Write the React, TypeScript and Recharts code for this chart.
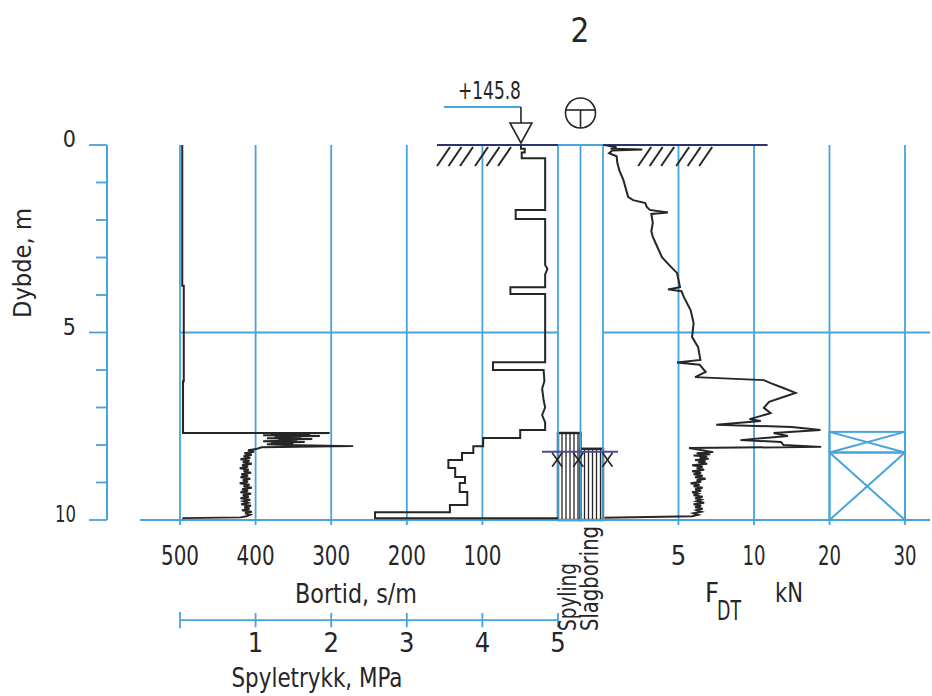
import React from 'react';
import {
  ComposedChart,
  Line,
  XAxis,
  YAxis,
  ReferenceLine,
  ReferenceArea,
  ReferenceDot,
} from 'recharts';

// ---------- data ----------
const boreholeId = '2';
const terrainLevel = '+145.8';

const depthTicks = [0, 1, 2, 3, 4, 5, 6, 7, 8, 9, 10];
const bortidTicks = [500, 400, 300, 200, 100];
const spyleTicks = [0, 1, 2, 3, 4, 5];
const fdtTicks = [5, 10, 20, 30];

const methods = ['Spyling', 'Slagboring'];
const methodStart = [7.68, 8.1]; // depth (m) where each drilling method starts
const boxDepths = [7.65, 8.2, 10]; // depth bounds of the crossed boxes
const stopMarkDepth = 8.18;
const stopMarkCols = [-0.04, 0.9, 2.2];

// [depth m, MPa]
const spyletrykk: [number, number][] = [
  [0, 0.03], [3.75, 0.03], [3.75, 0.05], [6.3, 0.05], [6.3, 0.04], [7.68, 0.04],
  [7.68, 1.98], [7.7, 1.2], [7.72, 1.72], [7.74, 1.1], [7.76, 1.85], [7.78, 1.25],
  [7.8, 1.6], [7.82, 1.15], [7.84, 1.75], [7.86, 1.3], [7.88, 1.55], [7.9, 1.1],
  [7.92, 1.65], [7.94, 1.2], [7.96, 1.5], [7.98, 1.15], [8.0, 1.4], [8.03, 2.29],
  [8.06, 1.08], [8.1, 1.02], [8.14, 0.9], [8.18, 0.98], [8.22, 0.85], [8.26, 0.95],
  [8.3, 0.84], [8.34, 0.93], [8.38, 0.8], [8.42, 0.92], [8.46, 0.83], [8.5, 0.95],
  [8.54, 0.82], [8.58, 0.9], [8.62, 0.79], [8.66, 0.91], [8.7, 0.84], [8.74, 0.94],
  [8.78, 0.81], [8.82, 0.9], [8.86, 0.8], [8.9, 0.93], [8.94, 0.83], [8.98, 0.9],
  [9.02, 0.79], [9.06, 0.92], [9.1, 0.84], [9.14, 0.95], [9.18, 0.82], [9.22, 0.9],
  [9.26, 0.8], [9.3, 0.94], [9.34, 0.83], [9.38, 0.91], [9.42, 0.8], [9.46, 0.93],
  [9.5, 0.84], [9.54, 0.9], [9.58, 0.81], [9.62, 0.94], [9.66, 0.85], [9.7, 0.92],
  [9.74, 0.82], [9.78, 0.95], [9.82, 0.86], [9.86, 0.93], [9.9, 0.88], [9.93, 0.8],
  [9.95, 0.03],
];

// [depth m, s/m]
const bortid: [number, number][] = [
  [0, 49], [0.1, 49], [0.1, 44], [0.2, 44], [0.2, 48], [0.35, 48], [0.35, 17],
  [1.73, 17], [1.73, 56], [1.97, 56], [1.97, 17], [3.2, 17], [3.3, 14], [3.45, 17],
  [3.79, 17], [3.79, 63], [3.97, 63], [3.97, 17], [5.79, 17], [5.79, 86], [6.0, 86],
  [6.0, 19], [6.3, 18], [6.5, 21], [6.8, 19], [7.0, 17], [7.2, 21], [7.4, 17],
  [7.6, 17], [7.6, 50], [7.81, 50], [7.81, 99], [8.03, 99], [8.03, 112], [8.21, 112],
  [8.21, 127], [8.4, 127], [8.4, 145], [8.61, 145], [8.61, 136], [8.85, 136],
  [8.85, 123], [9.01, 123], [9.01, 130], [9.25, 130], [9.25, 120], [9.6, 120],
  [9.6, 143], [9.79, 143], [9.79, 242], [9.95, 242], [9.95, 0],
];

// [depth m, kN]
const fdt: [number, number][] = [
  [0.0, 0.1], [0.06, 0.9], [0.1, 0.5], [0.12, 2.6], [0.15, 0.6], [0.22, 0.4],
  [0.3, 0.9], [0.48, 0.95], [0.7, 1.1], [0.93, 1.35], [1.15, 1.5], [1.39, 1.67],
  [1.47, 2.0], [1.55, 2.8], [1.65, 2.9], [1.73, 3.1], [1.8, 4.3], [1.84, 3.2],
  [2.08, 3.3], [2.3, 3.2], [2.45, 3.3], [2.72, 3.6], [2.99, 3.9], [3.25, 4.5],
  [3.41, 4.9], [3.6, 5.0], [3.79, 5.1], [3.85, 4.3], [3.9, 5.2], [4.05, 5.35],
  [4.4, 5.8], [4.75, 6.0], [5.12, 5.9], [5.39, 6.3], [5.73, 6.45], [5.8, 4.9],
  [5.86, 6.4], [6.05, 6.8], [6.19, 6.1], [6.27, 11.3], [6.35, 12.2], [6.48, 13.9],
  [6.61, 15.5], [6.72, 13.9], [6.85, 12.0], [7.01, 11.3], [7.15, 12.2], [7.25, 10.5],
  [7.31, 9.7], [7.36, 10.9], [7.46, 7.5], [7.52, 15.0], [7.6, 18.8], [7.68, 12.6],
  [7.76, 14.5], [7.87, 9.1], [7.92, 13.6], [8.0, 13.9], [8.05, 18.9], [8.08, 5.7],
  [8.19, 7.3], [8.22, 6.2], [8.25, 7.1], [8.28, 6.0], [8.31, 6.9], [8.34, 6.4],
  [8.37, 7.0], [8.4, 6.1], [8.43, 6.8], [8.46, 6.3], [8.5, 6.9], [8.54, 5.9],
  [8.58, 6.6], [8.62, 6.2], [8.66, 6.7], [8.7, 5.9], [8.74, 6.5], [8.78, 6.0],
  [8.82, 6.6], [8.86, 6.1], [8.9, 6.8], [8.94, 6.2], [8.98, 6.5], [9.02, 5.8],
  [9.06, 6.4], [9.1, 6.0], [9.14, 6.6], [9.18, 6.1], [9.22, 6.5], [9.26, 5.9],
  [9.3, 6.3], [9.34, 6.0], [9.38, 6.6], [9.42, 6.1], [9.46, 6.5], [9.5, 6.2],
  [9.54, 6.7], [9.58, 6.0], [9.62, 6.5], [9.66, 6.1], [9.7, 6.6], [9.74, 6.2],
  [9.78, 6.5], [9.82, 6.0], [9.86, 6.3], [9.9, 5.9], [9.94, 0.1],
];

// ---------- style & layout ----------
const FONT = "'DejaVu Sans Condensed', 'DejaVu Sans', sans-serif";
const BLUE = '#46a3dd';
const INK = '#262626';
const NAVY = '#2b3470';
const STOP = '#4d4a9a';

const W = 932;
const H = 696;
const PLOT = { left: 107, right: 930, top: 145, bottom: 520 };
const YAXIS_W = 100;

// Domain of a hidden x-axis so that two anchor values land on the given panel positions.
const lin = (p0: number, v0: number, p1: number, v1: number): [number, number] => {
  const k = (v1 - v0) / (p1 - p0);
  const a = v0 + (PLOT.left - p0) * k;
  const b = v0 + (PLOT.right - p0) * k;
  return [Math.min(a, b), Math.max(a, b)];
};
const bortidDomain = lin(180, 500, 558, 0);
const spyleDomain = lin(180, 0, 558, 5);
const colDomain = lin(558, 0, 603, 2);
const fdtDomain = lin(603, 0, 905, 20);

// F_DT axis is linear to 10 kN, then half scale up to 30 kN
const fdtScale = (kN: number) => (kN <= 10 ? kN : 10 + (kN - 10) / 2);

const GRID_END = 10.13;
const SPYLE_AXIS_DEPTH = 12.67;
const SPYLE_TICK = 0.19;

const spyleRows = spyletrykk.map(([d, v]) => ({ d, v }));
const bortidRows = bortid.map(([d, v]) => ({ d, v }));
const fdtRows = fdt.map(([d, v]) => ({ d, v: fdtScale(v) }));

const txt = { fontFamily: FONT, fill: INK } as const;

// narrow lettering: fixed glyph run lengths per label
const fit = (len?: number) =>
  len ? { textLength: len, lengthAdjust: 'spacingAndGlyphs' as const } : {};

const tickWidth = (s: string) => (s.length === 3 ? 38 : s.length === 2 ? 23 : undefined);

const DepthTick = (p: any) => {
  const { x, y, payload } = p;
  const major = payload.value % 5 === 0;
  return (
    <g>
      <line x1={x - (major ? 18 : 11)} x2={x} y1={y} y2={y} stroke={BLUE} strokeWidth={1.8} />
      {major && (
        <text x={x - 31} y={y + 2} textAnchor="end" fontSize={23} {...txt}
          {...fit(payload.value >= 10 ? 21 : undefined)}>
          {payload.value}
        </text>
      )}
    </g>
  );
};

const tickText = (label: string, dy: number, size = 27) => (p: any) => (
  <text x={p.cx} y={p.cy + dy} textAnchor="middle" fontSize={size} {...txt} {...fit(tickWidth(label))}>
    {label}
  </text>
);

const Hatch = (p: any) => {
  const { x, y, width, height } = p;
  const lines = [];
  for (let lx = x + 4; lx < x + width - 1; lx += 4) {
    lines.push(<line key={lx} x1={lx} x2={lx} y1={y} y2={y + height} stroke={INK} strokeWidth={1.3} />);
  }
  return (
    <g>
      <rect x={x} y={y} width={width} height={height} fill="#fff" stroke={INK} strokeWidth={2.4} />
      {lines}
    </g>
  );
};

const CrossBox = (p: any) => {
  const { x, y, width, height } = p;
  return (
    <g stroke={BLUE} strokeWidth={2} fill="none">
      <rect x={x} y={y} width={width} height={height} />
      <line x1={x} y1={y} x2={x + width} y2={y + height} />
      <line x1={x + width} y1={y} x2={x} y2={y + height} />
    </g>
  );
};

const XMark = (p: any) => (
  <g stroke={INK} strokeWidth={1.6}>
    <line x1={p.cx - 5} y1={p.cy + 1} x2={p.cx + 5} y2={p.cy + 15} />
    <line x1={p.cx + 5} y1={p.cy + 1} x2={p.cx - 5} y2={p.cy + 15} />
  </g>
);

const GroundHatch = (p: any) => (
  <g stroke={INK} strokeWidth={2}>
    {[0, 11.5, 23, 38, 49.5, 61].map((o) => (
      <line key={o} x1={p.cx + o} y1={p.cy + 21} x2={p.cx + o + 13} y2={p.cy + 2} />
    ))}
  </g>
);

const TerrainMarker = (p: any) => {
  const { cx, cy } = p;
  return (
    <g>
      <line x1={cx - 77} y1={cy - 38} x2={cx} y2={cy - 38} stroke={BLUE} strokeWidth={2} />
      <line x1={cx} y1={cy - 38} x2={cx} y2={cy - 22} stroke={INK} strokeWidth={1.6} />
      <polygon
        points={`${cx - 11},${cy - 22} ${cx + 11},${cy - 22} ${cx},${cy - 2}`}
        fill="#fff"
        stroke={INK}
        strokeWidth={1.6}
      />
      <text x={cx} y={cy - 46} textAnchor="end" fontSize={24} {...txt} {...fit(63)}>
        {terrainLevel}
      </text>
    </g>
  );
};

const MethodSymbol = (p: any) => {
  const { cx, cy } = p;
  return (
    <g stroke={INK} strokeWidth={1.6} fill="none">
      <circle cx={cx} cy={cy - 32} r={15} />
      <line x1={cx - 14.5} x2={cx + 14.5} y1={cy - 35} y2={cy - 35} />
      <line x1={cx} x2={cx} y1={cy - 35} y2={cy - 17} />
    </g>
  );
};

const ids = { yAxisId: 'depth' } as const;

export default function App() {
  return (
    <div style={{ position: 'absolute', left: 0, top: 0, width: W, height: H, background: '#fff' }}>
      <ComposedChart
        layout="vertical"
        width={W}
        height={H}
        margin={{ top: PLOT.top, right: W - PLOT.right, bottom: H - PLOT.bottom, left: PLOT.left - YAXIS_W }}
      >
        <YAxis
          yAxisId="depth"
          type="number"
          dataKey="d"
          domain={[0, 10]}
          allowDataOverflow
          ticks={depthTicks}
          interval={0}
          width={YAXIS_W}
          axisLine={{ stroke: BLUE, strokeWidth: 2 }}
          tickLine={false}
          tickSize={0}
          tickMargin={0}
          tick={(p: any) => <DepthTick {...p} />}
        />
        <XAxis xAxisId="bortid" type="number" domain={bortidDomain} reversed hide allowDataOverflow />
        <XAxis xAxisId="spyle" type="number" domain={spyleDomain} hide allowDataOverflow />
        <XAxis xAxisId="col" type="number" domain={colDomain} hide allowDataOverflow />
        <XAxis xAxisId="fdt" type="number" domain={fdtDomain} hide allowDataOverflow />

        {/* vertical grid */}
        {bortidTicks.map((v) => (
          <ReferenceLine key={'bg' + v} xAxisId="bortid" {...ids} ifOverflow="visible"
            segment={[{ x: v, y: 0 }, { x: v, y: GRID_END }]} stroke={BLUE} strokeWidth={1.8} />
        ))}
        {[0, 1, 2].map((c) => (
          <ReferenceLine key={'cg' + c} xAxisId="col" {...ids} ifOverflow="visible"
            segment={[{ x: c, y: 0 }, { x: c, y: 10 }]} stroke={BLUE} strokeWidth={1.8} />
        ))}
        {fdtTicks.map((v) => (
          <ReferenceLine key={'fg' + v} xAxisId="fdt" {...ids} ifOverflow="visible"
            segment={[{ x: fdtScale(v), y: 0 }, { x: fdtScale(v), y: GRID_END }]} stroke={BLUE} strokeWidth={1.8} />
        ))}

        {/* horizontal lines */}
        <ReferenceLine xAxisId="bortid" {...ids} ifOverflow="visible"
          segment={[{ x: 500, y: 5 }, { x: 0, y: 5 }]} stroke={BLUE} strokeWidth={1.8} />
        <ReferenceLine xAxisId="fdt" {...ids} ifOverflow="visible"
          segment={[{ x: 0, y: 5 }, { x: fdtDomain[1], y: 5 }]} stroke={BLUE} strokeWidth={1.8} />
        <ReferenceLine xAxisId="bortid" {...ids} ifOverflow="visible"
          segment={[{ x: 553, y: 10 }, { x: 0, y: 10 }]} stroke={BLUE} strokeWidth={1.8} />
        <ReferenceLine xAxisId="col" {...ids} ifOverflow="visible"
          segment={[{ x: 0, y: 10 }, { x: 2, y: 10 }]} stroke={BLUE} strokeWidth={1.8} />
        <ReferenceLine xAxisId="fdt" {...ids} ifOverflow="visible"
          segment={[{ x: 0, y: 10 }, { x: fdtDomain[1], y: 10 }]} stroke={BLUE} strokeWidth={1.8} />
        <ReferenceLine xAxisId="col" {...ids} ifOverflow="visible"
          segment={[{ x: 0, y: 0 }, { x: 2, y: 0 }]} stroke={BLUE} strokeWidth={1.8} />

        {/* terrain surface */}
        <ReferenceLine xAxisId="bortid" {...ids} ifOverflow="visible"
          segment={[{ x: 160, y: 0 }, { x: 0, y: 0 }]} stroke={NAVY} strokeWidth={2} />
        <ReferenceLine xAxisId="fdt" {...ids} ifOverflow="visible"
          segment={[{ x: 0, y: 0 }, { x: fdtScale(11.8), y: 0 }]} stroke={NAVY} strokeWidth={2} />
        <ReferenceDot xAxisId="bortid" {...ids} x={160} y={0} ifOverflow="visible" shape={GroundHatch} />
        <ReferenceDot xAxisId="fdt" {...ids} x={2.33} y={0} ifOverflow="visible" shape={GroundHatch} />
        <ReferenceDot xAxisId="bortid" {...ids} x={bortid[0][1]} y={0} ifOverflow="visible" shape={TerrainMarker} />
        <ReferenceDot xAxisId="col" {...ids} x={1} y={0} ifOverflow="visible" shape={MethodSymbol} />

        {/* drilling method columns */}
        {methods.map((m, i) => (
          <ReferenceArea key={m} xAxisId="col" {...ids} x1={i} x2={i + 1} y1={methodStart[i]} y2={10}
            ifOverflow="visible" shape={Hatch} />
        ))}
        <ReferenceLine xAxisId="col" {...ids} ifOverflow="visible"
          segment={[{ x: -0.71, y: stopMarkDepth }, { x: 2.67, y: stopMarkDepth }]} stroke={STOP} strokeWidth={2} />
        {stopMarkCols.map((c) => (
          <ReferenceDot key={'xm' + c} xAxisId="col" {...ids} x={c} y={stopMarkDepth} ifOverflow="visible" shape={XMark} />
        ))}

        {/* crossed boxes in the F_DT panel */}
        {boxDepths.slice(0, -1).map((d, i) => (
          <ReferenceArea key={'bx' + i} xAxisId="fdt" {...ids} x1={fdtScale(20)} x2={fdtScale(30)}
            y1={d} y2={boxDepths[i + 1]} ifOverflow="visible" shape={CrossBox} />
        ))}

        {/* tick labels */}
        {bortidTicks.map((v) => (
          <ReferenceDot key={'bl' + v} xAxisId="bortid" {...ids} x={v} y={10} ifOverflow="visible"
            shape={tickText(String(v), 45)} />
        ))}
        {fdtTicks.map((v) => (
          <ReferenceDot key={'fl' + v} xAxisId="fdt" {...ids} x={fdtScale(v)} y={10} ifOverflow="visible"
            shape={tickText(String(v), 45)} />
        ))}

        {/* flushing pressure scale */}
        <ReferenceLine xAxisId="spyle" {...ids} ifOverflow="visible"
          segment={[{ x: 0, y: SPYLE_AXIS_DEPTH }, { x: 5, y: SPYLE_AXIS_DEPTH }]} stroke={BLUE} strokeWidth={1.8} />
        {spyleTicks.map((v) => (
          <ReferenceLine key={'st' + v} xAxisId="spyle" {...ids} ifOverflow="visible"
            segment={[
              { x: v, y: SPYLE_AXIS_DEPTH - SPYLE_TICK * (v === 0 ? 1.15 : 1) },
              { x: v, y: SPYLE_AXIS_DEPTH + SPYLE_TICK * (v === 0 ? 1.15 : 1) },
            ]}
            stroke={BLUE} strokeWidth={1.8} />
        ))}
        {spyleTicks.filter((v) => v > 0).map((v) => (
          <ReferenceDot key={'sl' + v} xAxisId="spyle" {...ids} x={v} y={SPYLE_AXIS_DEPTH} ifOverflow="visible"
            shape={tickText(String(v), 32)} />
        ))}

        {/* sounding curves */}
        <Line xAxisId="spyle" {...ids} data={spyleRows} dataKey="v" type="linear" stroke={INK}
          strokeWidth={2} dot={false} isAnimationActive={false} />
        <Line xAxisId="bortid" {...ids} data={bortidRows} dataKey="v" type="linear" stroke={INK}
          strokeWidth={2} dot={false} isAnimationActive={false} />
        <Line xAxisId="fdt" {...ids} data={fdtRows} dataKey="v" type="linear" stroke={INK}
          strokeWidth={2} dot={false} isAnimationActive={false} />
      </ComposedChart>

      <svg width={W} height={H} style={{ position: 'absolute', left: 0, top: 0, pointerEvents: 'none' }}>
        <text x={580} y={42} textAnchor="middle" fontSize={33} {...txt}>{boreholeId}</text>
        <text x={31} y={263} textAnchor="middle" fontSize={25} transform="rotate(-90 31 263)" {...txt} {...fit(110)}>Dybde, m</text>
        <text x={356} y={603} textAnchor="middle" fontSize={27} {...txt} {...fit(122)}>Bortid, s/m</text>
        <text x={317} y={687} textAnchor="middle" fontSize={27} {...txt} {...fit(171)}>Spyletrykk, MPa</text>
        <text x={576} y={631} fontSize={24} transform="rotate(-90 576 631)" {...txt} {...fit(68)}>{methods[0]}</text>
        <text x={598} y={631} fontSize={24} transform="rotate(-90 598 631)" {...txt} {...fit(105)}>{methods[1]}</text>
        <text x={705} y={602} fontSize={27} {...txt}>F</text>
        <text x={717} y={620} fontSize={26} {...txt} {...fit(24)}>DT</text>
        <text x={775} y={602} fontSize={27} {...txt} {...fit(28)}>kN</text>
      </svg>
    </div>
  );
}
